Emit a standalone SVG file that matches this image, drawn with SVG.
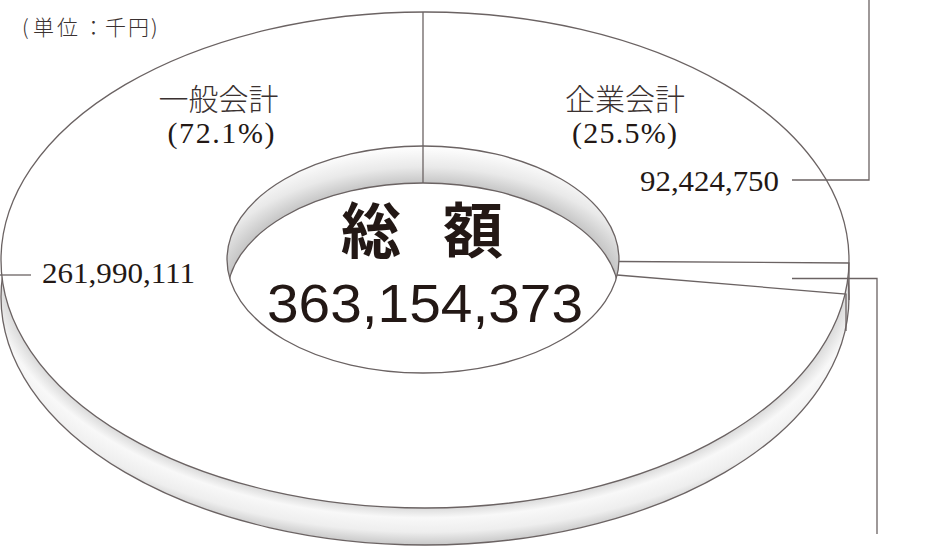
<svg xmlns="http://www.w3.org/2000/svg" width="936" height="547" viewBox="0 0 936 547">
<style>
.ln{fill:none;stroke:#6b6363;stroke-width:1.3}
.jp{font-family:"Noto Sans CJK JP","Noto Sans CJK SC",sans-serif;font-weight:300;fill:#3a3130}
.num{font-family:"Liberation Serif","Noto Sans CJK JP",serif;fill:#231815}
</style>
<defs>
<radialGradient id="side" gradientUnits="userSpaceOnUse" cx="425" cy="260" r="487" gradientTransform="translate(425 260) scale(1 0.585) translate(-425 -260)">
<stop offset="0.87" stop-color="#dadada"/>
<stop offset="0.905" stop-color="#f8f8f8"/>
<stop offset="0.955" stop-color="#eeeeee"/>
<stop offset="1" stop-color="#c8c8c8"/>
</radialGradient>
<radialGradient id="wall" gradientUnits="userSpaceOnUse" cx="423" cy="296.5" r="260" gradientTransform="translate(423 296.5) scale(1 0.579) translate(-423 -296.5)">
<stop offset="0.754" stop-color="#c6c6c6"/>
<stop offset="0.86" stop-color="#e9e9e9"/>
<stop offset="1" stop-color="#ffffff"/>
</radialGradient>
<clipPath id="hole"><ellipse cx="423" cy="259.5" rx="196" ry="113.5"/></clipPath>
</defs>
<rect width="936" height="547" fill="#fff"/>
<g id="donut">
<ellipse cx="425" cy="297" rx="424" ry="248" class="ln" style="fill:url(#side)"/>
<ellipse cx="425" cy="260" rx="424" ry="248" fill="#fff" stroke="#6b6363" stroke-width="1.3"/>
<ellipse cx="423" cy="259.5" rx="196" ry="113.5" fill="url(#wall)"/>
<ellipse cx="423" cy="296.5" rx="196" ry="113.5" fill="#fff" stroke="#6b6363" stroke-width="1.3" clip-path="url(#hole)"/>
<ellipse cx="423" cy="259.5" rx="196" ry="113.5" class="ln"/>
</g>
<g id="connectors">
<path class="ln" d="M423 12V183"/>
<path class="ln" d="M619 261.5L849 263V300"/>
<path class="ln" d="M617 275L846 294V331"/>
<path class="ln" d="M0 275H31"/>
<path class="ln" d="M792 180H869V0"/>
<path class="ln" d="M792 278.5H877V534"/>
</g>
<g id="unit"><text class="jp" x="22 33 57 83 105 128 151" y="35" font-size="21" font-weight="400">(単位：千円)</text></g>
<g id="general">
<text class="jp" x="218.5" y="110" font-size="30" text-anchor="middle">一般会計</text>
<text class="num" x="221" y="143" font-size="30" text-anchor="middle" textLength="107" lengthAdjust="spacing">(72.1%)</text>
<text class="num" x="42" y="283" font-size="30" textLength="153" lengthAdjust="spacingAndGlyphs">261,990,111</text>
</g>
<g id="enterprise">
<text class="jp" x="625" y="110" font-size="30" text-anchor="middle">企業会計</text>
<text class="num" x="624.5" y="143" font-size="30" text-anchor="middle" textLength="105" lengthAdjust="spacing">(25.5%)</text>
<text class="num" x="640" y="191" font-size="30" textLength="139" lengthAdjust="spacingAndGlyphs">92,424,750</text>
</g>
<g id="total">
<text x="341 401 443" y="253" font-family="'Noto Sans CJK JP','Noto Sans CJK SC',sans-serif" font-weight="700" font-size="60" fill="#231815">総 額</text>
<text x="425" y="322" font-family="'Liberation Sans',Arial,sans-serif" font-size="54" fill="#231815" text-anchor="middle" textLength="316" lengthAdjust="spacingAndGlyphs">363,154,373</text>
</g>
</svg>
